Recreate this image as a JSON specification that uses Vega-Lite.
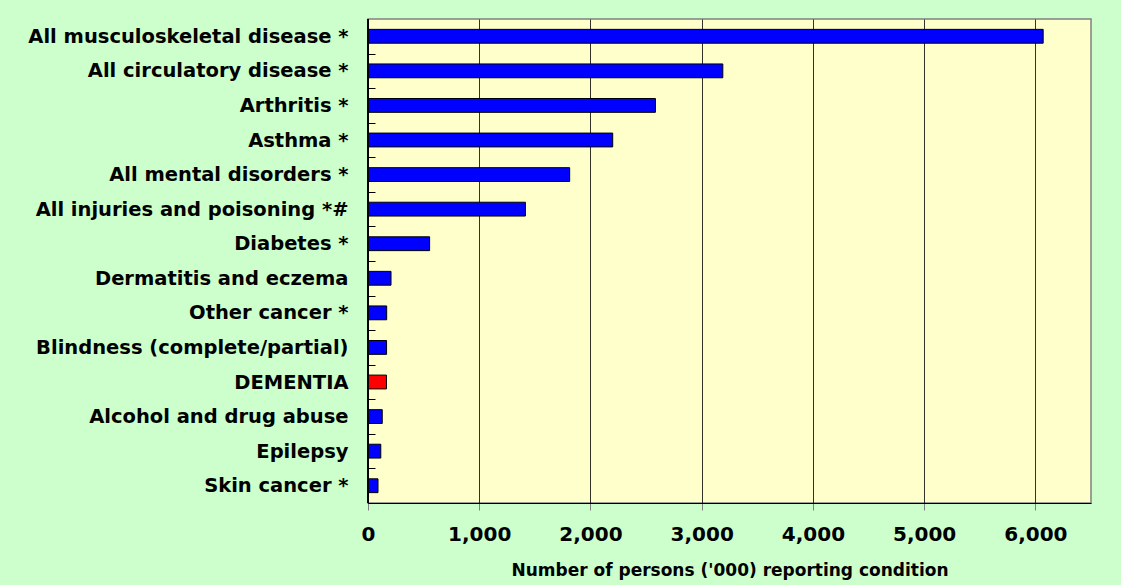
{
  "$schema": "https://vega.github.io/schema/vega-lite/v6.json",
  "autosize": {"type": "none"},
  "padding": {"left": 368, "top": 19, "right": 30, "bottom": 82},
  "width": 723,
  "height": 484,
  "background": "#CCFFCC",
  "data": {
    "values": [
      {"condition": "All musculoskeletal disease *", "persons": 6070},
      {"condition": "All circulatory disease *", "persons": 3190},
      {"condition": "Arthritis *", "persons": 2584},
      {"condition": "Asthma *", "persons": 2200},
      {"condition": "All mental disorders *", "persons": 1813},
      {"condition": "All injuries and poisoning *#", "persons": 1415},
      {"condition": "Diabetes *", "persons": 554},
      {"condition": "Dermatitis and eczema", "persons": 207},
      {"condition": "Other cancer *", "persons": 168},
      {"condition": "Blindness (complete/partial)", "persons": 167},
      {"condition": "DEMENTIA", "persons": 166},
      {"condition": "Alcohol and drug abuse", "persons": 128},
      {"condition": "Epilepsy", "persons": 115},
      {"condition": "Skin cancer *", "persons": 90}
    ]
  },
  "layer": [
    {
      "mark": {"type": "bar", "stroke": "#000000", "strokeWidth": 1},
      "encoding": {
        "y": {
          "field": "condition",
          "type": "nominal",
          "sort": null,
          "scale": {"paddingInner": 0.6, "paddingOuter": 0.3},
          "axis": {
            "title": null,
            "zindex": 1,
            "offset": -7,
            "domain": false,
            "ticks": true,
            "tickOffset": 17.29,
            "labelOffset": -17.29,
            "tickSize": 7,
            "tickWidth": 1,
            "tickColor": "#000000",
            "labelPadding": 20,
            "labelFont": "DejaVu Sans",
            "labelFontWeight": "bold",
            "labelFontSize": 19.5,
            "labelColor": "#000000",
            "labelLimit": 400
          }
        },
        "x": {
          "field": "persons",
          "type": "quantitative",
          "scale": {"domain": [0, 6500], "nice": false},
          "axis": {
            "values": [0, 1000, 2000, 3000, 4000, 5000, 6000],
            "format": ",.0f",
            "labelFlush": false,
            "title": "Number of persons ('000) reporting condition",
            "titleFont": "DejaVu Sans",
            "titleFontWeight": "bold",
            "titleFontSize": 17,
            "titleColor": "#000000",
            "titleBaseline": "alphabetic",
            "titleY": 72,
            "domainColor": "#000000",
            "tickColor": "#808080",
            "tickSize": 7,
            "grid": true,
            "gridColor": "#000000",
            "gridWidth": 1,
            "gridOpacity": 0.8,
            "labelFont": "DejaVu Sans",
            "labelFontWeight": "bold",
            "labelFontSize": 20,
            "labelColor": "#000000",
            "labelPadding": 14
          }
        },
        "color": {
          "condition": {"test": "datum.condition === 'DEMENTIA'", "value": "#FF0000"},
          "value": "#0000FF"
        }
      }
    },
    {
      "mark": {"type": "rule", "color": "#000000", "strokeWidth": 1},
      "encoding": {
        "x": {"datum": 0, "type": "quantitative"}
      }
    }
  ],
  "config": {
    "view": {"fill": "#FFFFCC", "stroke": "#808080", "strokeWidth": 1.5}
  }
}
